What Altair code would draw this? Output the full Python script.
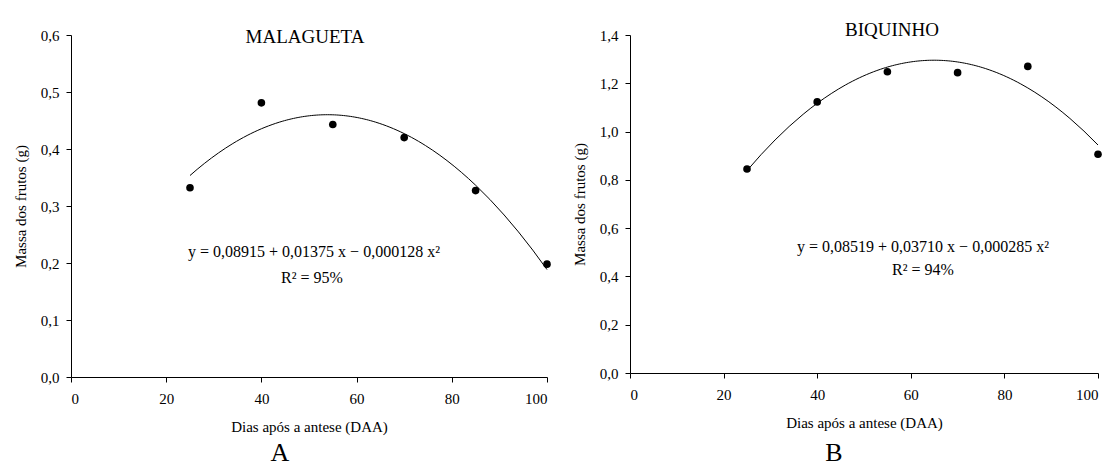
import altair as alt
import pandas as pd

# ---- data ----
days = [25, 40, 55, 70, 85, 100]
malagueta = [0.332, 0.481, 0.443, 0.420, 0.327, 0.198]
biquinho = [0.845, 1.123, 1.248, 1.244, 1.270, 0.906]

x_ticks = [0, 20, 40, 60, 80, 100]
y_ticks_a = [0.0, 0.1, 0.2, 0.3, 0.4, 0.5, 0.6]
y_ticks_b = [0.0, 0.2, 0.4, 0.6, 0.8, 1.0, 1.2, 1.4]

panel_titles = ["MALAGUETA", "BIQUINHO"]
equations = ["y = 0,08915 + 0,01375  x − 0,000128  x²",
             "y = 0,08519 + 0,03710  x − 0,000285  x²"]
r2_texts = ["R² = 95%", "R² = 94%"]
panel_letters = ["A", "B"]
x_title = "Dias após a antese (DAA)"
y_title = "Massa dos frutos (g)"

FONT = "Liberation Serif"
LABEL_EXPR = "replace(format(datum.value, '.1f'), '.', ',')"


def text_layer(txt, x, y, size, baseline="alphabetic"):
    return alt.Chart(pd.DataFrame({"t": [txt]})).mark_text(
        font=FONT, fontSize=size, color="black", align="center", baseline=baseline
    ).encode(text="t:N", x=alt.value(x), y=alt.value(y))


def panel(values, yticks, ymax, title, eq, r2, letter, width, height, pos):
    df = pd.DataFrame({"x": days, "y": values})
    xenc = alt.X("x:Q", scale=alt.Scale(domain=[0, 100], nice=False),
                 axis=alt.Axis(values=x_ticks, title=x_title, format="d"))
    yenc = alt.Y("y:Q", scale=alt.Scale(domain=[0, ymax], nice=False),
                 axis=alt.Axis(values=yticks, title=y_title, labelExpr=LABEL_EXPR))
    pts = alt.Chart(df).mark_circle(size=58, color="black", opacity=1).encode(x=xenc, y=yenc)
    curve = alt.Chart(df).transform_regression(
        "x", "y", method="poly", order=2, extent=[25, 100]
    ).mark_line(color="black", strokeWidth=1).encode(x="x:Q", y="y:Q")
    t_title = text_layer(title, pos["tx"], pos["ty"], 19)
    t_eq = text_layer(eq, pos["ex"], pos["ey"], 16)
    t_r2 = text_layer(r2, pos["rx"], pos["ry"], 16)
    t_letter = text_layer(letter, pos["lx"], pos["ly"], 26)
    return alt.layer(curve, pts, t_title, t_eq, t_r2, t_letter).properties(
        width=width, height=height)


left = panel(malagueta, y_ticks_a, 0.6, panel_titles[0], equations[0], r2_texts[0],
             panel_letters[0], 476, 342,
             dict(tx=234, ty=8, ex=243, ey=222, rx=241, ry=248, lx=209, ly=426))
right = panel(biquinho, y_ticks_b, 1.4, panel_titles[1], equations[1], r2_texts[1],
              panel_letters[1], 468, 338,
              dict(tx=262, ty=1, ex=293, ey=217, rx=293, ry=240, lx=204, ly=426))

chart = alt.hconcat(left, right, spacing=21).properties(
    padding={"left": 5, "top": 13, "right": 0, "bottom": 0}
).configure_view(strokeWidth=0).configure_axis(
    labelFont=FONT, titleFont=FONT, labelFontSize=15, titleFontSize=15,
    labelColor="black", titleColor="black", domainColor="black", tickColor="black",
    titleFontWeight="normal", grid=False, tickSize=5, labelPadding=7
).configure_axisX(titlePadding=13, labelPadding=9, labelAngle=0).configure_axisY(titlePadding=12)

chart.save("out.html", embed_options={"renderer": "svg", "actions": False})
